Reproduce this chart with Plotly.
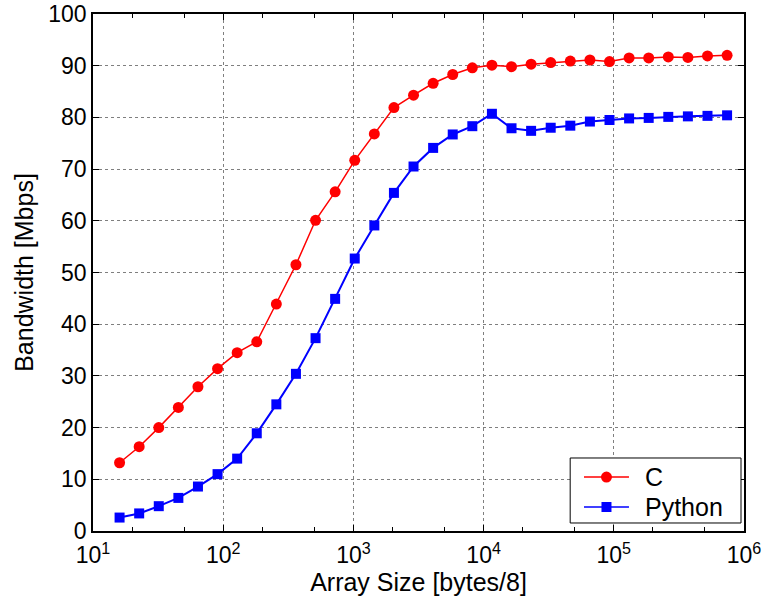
import plotly.graph_objects as go

# Array sizes: 2^4 .. 2^19.5 in half-power-of-two steps (units of 8 bytes)
array_size = [2 ** (4 + k / 2) for k in range(32)]

bandwidth_c = [
    13.2, 16.3, 20.0, 23.9, 27.9, 31.4, 34.5, 36.6,
    43.9, 51.5, 60.1, 65.6, 71.7, 76.8, 81.9, 84.3,
    86.6, 88.3, 89.6, 90.1, 89.8, 90.3, 90.6, 90.9,
    91.1, 90.8, 91.5, 91.5, 91.7, 91.6, 91.9, 92.0,
]

bandwidth_python = [
    2.6, 3.4, 4.8, 6.4, 8.6, 11.0, 14.0, 18.9,
    24.5, 30.4, 37.3, 44.9, 52.7, 59.1, 65.4, 70.5,
    74.1, 76.7, 78.3, 80.7, 77.9, 77.4, 78.0, 78.4,
    79.2, 79.5, 79.8, 79.9, 80.1, 80.2, 80.3, 80.4,
]

series_names = ["C", "Python"]
series_colors = ["#ff0000", "#0000ff"]

x_tick_vals = [10, 100, 1000, 10000, 100000, 1000000]
x_tick_text = ["10<sup>1</sup>", "10<sup>2</sup>", "10<sup>3</sup>",
               "10<sup>4</sup>", "10<sup>5</sup>", "10<sup>6</sup>"]
y_tick_vals = list(range(0, 101, 10))

FONT = "Liberation Sans, Arial, Helvetica, sans-serif"

fig = go.Figure()
fig.add_trace(go.Scatter(
    x=array_size, y=bandwidth_c, name=series_names[0], mode="lines+markers",
    line=dict(color=series_colors[0], width=1.5),
    marker=dict(symbol="circle", size=11, color=series_colors[0]),
    showlegend=False,
))
fig.add_trace(go.Scatter(
    x=array_size, y=bandwidth_python, name=series_names[1], mode="lines+markers",
    line=dict(color=series_colors[1], width=2),
    marker=dict(symbol="square", size=10, color=series_colors[1]),
    showlegend=False,
))

axis_common = dict(
    showline=True, linecolor="black", linewidth=1.5, mirror="ticks",
    ticks="inside", tickcolor="black", tickwidth=1, ticklen=6,
    showgrid=True, gridcolor="#7f7f7f", griddash="dot", gridwidth=1,
    zeroline=False, automargin=False,
    tickfont=dict(family=FONT, size=23, color="black"),
)

fig.update_xaxes(
    type="log", range=[1, 6],
    tickmode="array", tickvals=x_tick_vals, ticktext=x_tick_text,
    ticklabelstandoff=3,
    title=dict(text="Array Size [bytes/8]", font=dict(family=FONT, size=25, color="black"),
               standoff=6),
    minor=dict(ticks="inside", ticklen=4, tickcolor="black", showgrid=False),
    **axis_common,
)
fig.update_yaxes(
    range=[0, 100], tickmode="array", tickvals=y_tick_vals,
    title=dict(text="Bandwidth [Mbps]", font=dict(family=FONT, size=25, color="black"),
               standoff=8),
    **axis_common,
)

# Boxed legend in the lower-right corner of the axes (paper coordinates)
box = dict(x0=0.733, x1=0.9954, y0=0.0155, y1=0.1412)
row_y = [0.1044, 0.0464]
sample_x = (0.7542, 0.8233)
symbol_x = (sample_x[0] + sample_x[1]) / 2
text_x = 0.8449

shapes = [dict(type="rect", xref="paper", yref="paper", **box,
               line=dict(color="black", width=1), fillcolor="white", layer="above")]
annotations = []
for name, color, ry, sym in zip(series_names, series_colors, row_y, ["circle", "rect"]):
    shapes.append(dict(type="line", xref="paper", yref="paper",
                       x0=sample_x[0], x1=sample_x[1], y0=ry, y1=ry,
                       line=dict(color=color, width=1.5), layer="above"))
    half = 5.5 if sym == "circle" else 5
    shapes.append(dict(type=sym, xref="paper", yref="paper",
                       xsizemode="pixel", ysizemode="pixel",
                       xanchor=symbol_x, yanchor=ry,
                       x0=-half, x1=half, y0=-half, y1=half,
                       fillcolor=color, line=dict(color=color, width=0), layer="above"))
    annotations.append(dict(xref="paper", yref="paper", x=text_x, y=ry,
                            xanchor="left", yanchor="middle", showarrow=False,
                            text=name, font=dict(family=FONT, size=25, color="black")))

fig.update_layout(
    width=763, height=607,
    margin=dict(l=93, r=19, t=14, b=76),
    paper_bgcolor="white", plot_bgcolor="white",
    font=dict(family=FONT, color="black"),
    showlegend=False,
    shapes=shapes,
    annotations=annotations,
)

fig.write_html("out.html")
